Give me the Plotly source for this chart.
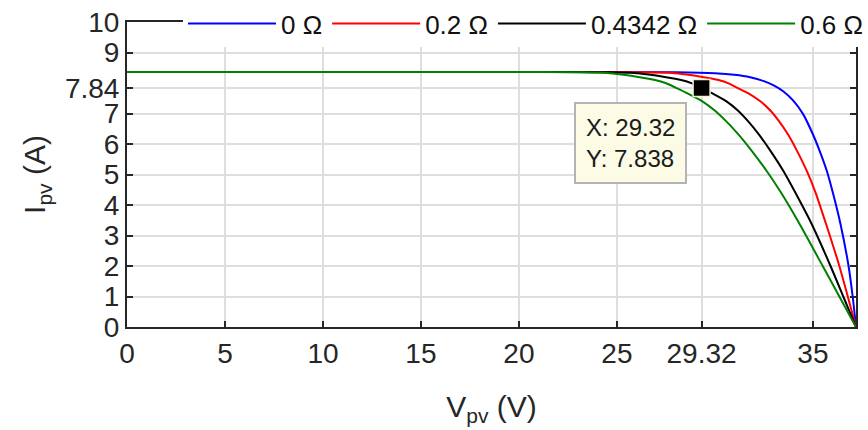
import plotly.graph_objects as go

# ---- data ----
v_r0 = [0, 20, 28.0, 30.0, 31.0, 31.8, 32.5, 33.0, 33.5, 34.0, 34.5, 35.0, 35.33, 35.72, 36.02, 36.4, 36.82, 37.03, 37.2]
i_r0 = [8.36, 8.36, 8.35, 8.32, 8.27, 8.19, 8.06, 7.92, 7.72, 7.42, 6.98, 6.32, 5.80, 5.10, 4.40, 3.40, 2.00, 1.00, 0.00]

v_r02 = [0, 20, 26.33, 27.83, 28.54, 29.36, 30.18, 30.70, 31.15, 31.69, 32.32, 32.83, 33.27, 33.74, 34.17, 34.70, 35.14, 35.66, 36.35, 36.78, 37.2]
i_r02 = [8.36, 8.36, 8.35, 8.33, 8.28, 8.20, 8.10, 7.99, 7.84, 7.67, 7.40, 7.10, 6.75, 6.30, 5.80, 5.10, 4.40, 3.40, 2.00, 1.00, 0.00]

v_r04 = [0, 20, 24.37, 25.88, 26.61, 27.44, 28.28, 28.83, 29.32, 29.90, 30.59, 31.17, 31.69, 32.26, 32.81, 33.51, 34.11, 34.92, 35.90, 36.55, 37.2]
i_r04 = [8.36, 8.36, 8.35, 8.33, 8.28, 8.20, 8.10, 7.99, 7.838, 7.65, 7.40, 7.10, 6.75, 6.30, 5.80, 5.10, 4.40, 3.40, 2.00, 1.00, 0.00]

v_r06 = [0, 20, 22.99, 24.50, 25.23, 26.08, 26.94, 27.51, 28.02, 28.63, 29.36, 29.99, 30.57, 31.22, 31.85, 32.66, 33.38, 34.30, 35.50, 36.35, 37.2]
i_r06 = [8.36, 8.36, 8.35, 8.33, 8.28, 8.20, 8.10, 7.99, 7.84, 7.65, 7.40, 7.10, 6.75, 6.30, 5.80, 5.10, 4.40, 3.40, 2.00, 1.00, 0.00]

series_names = ["0 Ω", "0.2 Ω", "0.4342 Ω", "0.6 Ω"]
series_colors = ["#0000FF", "#FF0000", "#000000", "#008000"]

tip_v = 29.32
tip_i = 7.838

x_tickvals = [0, 5, 10, 15, 20, 25, 29.32, 35]
x_ticktext = ["0", "5", "10", "15", "20", "25", "29.32", "35"]
y_tickvals = [0, 1, 2, 3, 4, 5, 6, 7, 7.84, 9, 10]
y_ticktext = ["0", "1", "2", "3", "4", "5", "6", "7", "7.84", "9", "10"]

# ---- figure ----
fig = go.Figure()
for vs, cs, nm, col in zip([v_r0, v_r02, v_r04, v_r06], [i_r0, i_r02, i_r04, i_r06],
                           series_names, series_colors):
    fig.add_trace(go.Scatter(x=vs, y=cs, mode="lines", name=nm,
                             line=dict(color=col, width=2, shape="spline", smoothing=0.7)))

fig.add_trace(go.Scatter(x=[tip_v], y=[tip_i], mode="markers", showlegend=False,
                         marker=dict(symbol="square", size=17, color="black",
                                     line=dict(color="#F2F2D0", width=1.5))))

fig.add_annotation(x=tip_v, y=tip_i, xref="x", yref="y",
                   showarrow=True, arrowcolor="rgba(0,0,0,0)", arrowwidth=0.1,
                   ax=-71, ay=55,
                   text="X: 29.32<br>Y: 7.838", align="left",
                   font=dict(size=24, color="#1a1a1a"),
                   bgcolor="#FBFBE6", bordercolor="#B4B4B4", borderwidth=2, borderpad=10)

axis_common = dict(showline=True, linecolor="#262626", linewidth=2, mirror="allticks",
                   ticks="inside", ticklen=6, tickwidth=1.5, tickcolor="#262626",
                   showgrid=True, gridcolor="#DEDEDE", gridwidth=1.5, zeroline=False,
                   tickfont=dict(size=28, color="#262626"))

fig.update_xaxes(range=[0, 37.2], tickvals=x_tickvals, ticktext=x_ticktext,
                 title=dict(text="V<sub>pv</sub> (V)", font=dict(size=30, color="#262626"), standoff=28),
                 **axis_common)
fig.update_yaxes(range=[0, 10], tickvals=y_tickvals, ticktext=y_ticktext,
                 title=dict(text="I<sub>pv</sub> (A)", font=dict(size=30, color="#262626"), standoff=10),
                 **axis_common)

fig.update_layout(
    width=868, height=430,
    margin=dict(l=127, r=12, t=22, b=103, autoexpand=False),
    plot_bgcolor="white", paper_bgcolor="white",
    font=dict(family="Liberation Sans, Arial, sans-serif", color="#262626"),
    legend=dict(orientation="h", xref="container", yref="container",
                x=1.0, xanchor="right", y=1.0, yanchor="top",
                bgcolor="white", borderwidth=0, font=dict(size=26, color="#111111"),
                itemwidth=88, tracegroupgap=0),
)

fig.write_html("out.html", config={"displayModeBar": False},
               post_script="document.body.style.margin='0';document.body.style.overflow='hidden';")
